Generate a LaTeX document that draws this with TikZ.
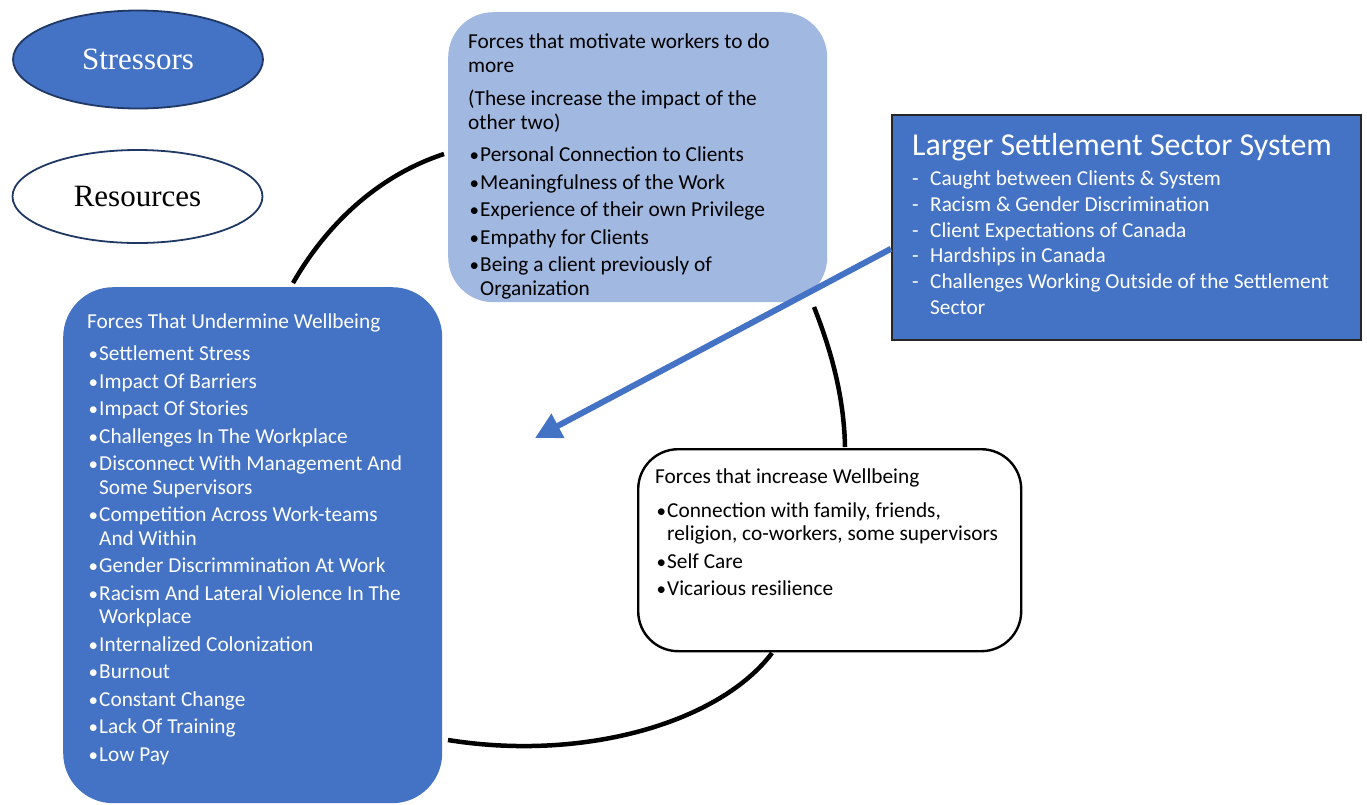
\documentclass[tikz,border=0pt]{standalone}
\usepackage{fontspec}
\setmainfont{Carlito}
\newfontfamily\ovalfont{Liberation Serif}
\usetikzlibrary{arrows.meta,shapes.geometric}

\definecolor{accentblue}{HTML}{4472C4}
\definecolor{paleblue}{HTML}{A1B8E1}
\definecolor{navyline}{HTML}{203864}

% list helpers
\newcommand{\bul}{\hspace*{1.5pt}\makebox[10.5pt][l]{\fontsize{19}{19}\selectfont\textbullet}}
\newcommand{\bulgap}{\hspace*{12pt}}
\newcommand{\dashitem}{\makebox[18pt][l]{-}}
\newcommand{\dashgap}{\hspace*{18pt}}

\begin{document}
\begin{tikzpicture}[x=1pt,y=-1pt,
  legendoval/.style={ellipse, draw=navyline, line width=1.8pt, minimum width=250pt,
    minimum height=98pt, inner sep=0pt, font=\ovalfont\fontsize{31}{31}\selectfont},
  roundbox/.style={rectangle, anchor=north west, inner sep=0pt},
  boxtext/.style={anchor=north west, align=left, inner sep=0pt,
    font=\fontsize{21.3}{23.5}\selectfont},
  loopline/.style={line width=4.5pt, black},
  sysarrow/.style={line width=6pt, accentblue, -{Triangle[length=26pt,width=26pt]}},
]
\useasboundingbox (0,0) rectangle (1367,804);

% legend
\node[legendoval, fill=accentblue, text=white] (stressors) at (138,59.5) {Stressors};
\node[legendoval, fill=white, minimum height=93pt] (resources) at (137.5,196.5) {Resources};

% boxes
\node[roundbox, fill=paleblue, rounded corners=45pt, minimum width=379pt, minimum height=290pt]
  (motivate) at (448,12) {};
\node[roundbox, fill=accentblue, rounded corners=50pt, minimum width=379pt, minimum height=516pt]
  (undermine) at (63,287) {};
\node[roundbox, fill=white, draw=black, line width=2.4pt, rounded corners=40pt,
  minimum width=383pt, minimum height=202pt] (increase) at (637,448) {};
\node[roundbox, fill=accentblue, draw=black!85, line width=1.5pt, minimum width=469pt,
  minimum height=225pt] (larger) at (891,114) {};

% box texts
\node[boxtext] (motivatetext) at (468,34) {%
Forces that motivate workers to do\\
more\\[10pt]
(These increase the impact of the\\
other two)\\[9pt]
\bul Personal Connection to Clients\\[4pt]
\bul Meaningfulness of the Work\\[4pt]
\bul Experience of their own Privilege\\[4pt]
\bul Empathy for Clients\\[4pt]
\bul Being a client previously of\\
\bulgap Organization};

\node[boxtext, text=white] (underminetext) at (87,313.5) {%
Forces That Undermine Wellbeing\\[8.5pt]
\bul Settlement Stress\\[4pt]
\bul Impact Of Barriers\\[4pt]
\bul Impact Of Stories\\[4pt]
\bul Challenges In The Workplace\\[4pt]
\bul Disconnect With Management And\\
\bulgap Some Supervisors\\[4pt]
\bul Competition Across Work-teams\\
\bulgap And Within\\[4pt]
\bul Gender Discrimmination At Work\\[4pt]
\bul Racism And Lateral Violence In The\\
\bulgap Workplace\\[4pt]
\bul Internalized Colonization\\[4pt]
\bul Burnout\\[4pt]
\bul Constant Change\\[4pt]
\bul Lack Of Training\\[4pt]
\bul Low Pay};

\node[boxtext] (increasetext) at (655,468.5) {%
Forces that increase Wellbeing\\[10pt]
\bul Connection with family, friends,\\
\bulgap religion, co-workers, some supervisors\\[4pt]
\bul Self Care\\[4pt]
\bul Vicarious resilience};

\node[anchor=north west, inner sep=0pt, text=white, font=\fontsize{31.9}{31.9}\selectfont]
  (largertitle) at (912,133) {Larger Settlement Sector System};
\node[boxtext, text=white, font=\fontsize{21.3}{25.8}\selectfont] (largertext) at (912,170.5) {%
\dashitem Caught between Clients \& System\\
\dashitem Racism \& Gender Discrimination\\
\dashitem Client Expectations of Canada\\
\dashitem Hardships in Canada\\
\dashitem Challenges Working Outside of the Settlement\\
\dashgap Sector};

% loop of black arcs
\coordinate (loopAstart) at (293,283);
\coordinate (loopAend) at (444,154);
\coordinate (loopBstart) at (814,307);
\coordinate (loopBend) at (845,447);
\coordinate (loopCstart) at (772,653);
\coordinate (loopCend) at (448,740);
\draw[loopline] (loopAstart) .. controls (328,222) and (380,175) .. (loopAend);
\draw[loopline] (loopBstart) .. controls (827,340) and (844,390) .. (loopBend);
\draw[loopline] (loopCstart) .. controls (720,722) and (585,762) .. (loopCend);

% system pressure arrow
\coordinate (systemtip) at (535,438);
\draw[sysarrow] ([yshift=-21.5pt]larger.west) -- (systemtip);
\end{tikzpicture}
\end{document}
